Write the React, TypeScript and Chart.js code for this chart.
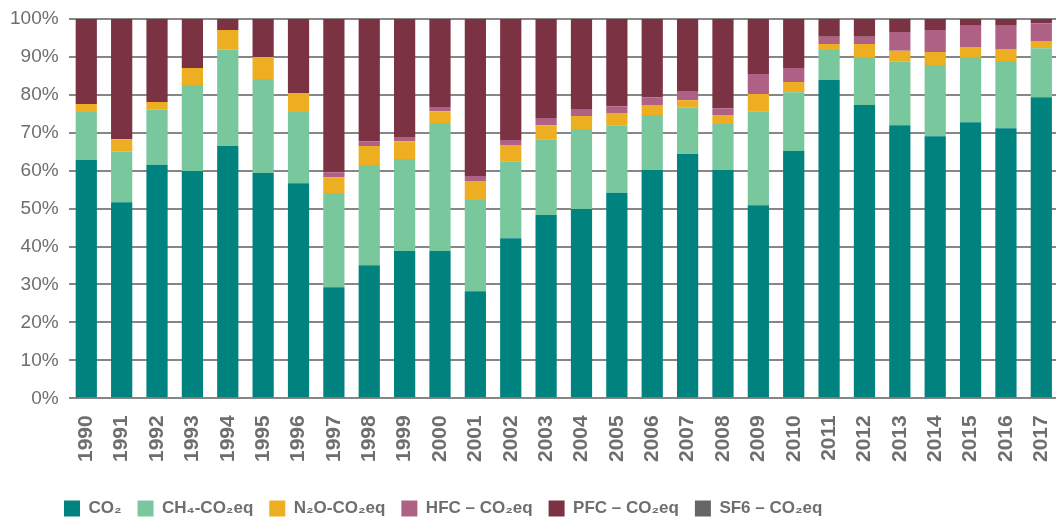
import React, { useEffect, useRef } from "react";
import { Chart, registerables } from "chart.js";

Chart.register(...registerables);

const years = ["1990","1991","1992","1993","1994","1995","1996","1997","1998","1999","2000","2001","2002","2003","2004","2005","2006","2007","2008","2009","2010","2011","2012","2013","2014","2015","2016","2017"];

const co2 = [62.8,51.7,61.6,59.9,66.5,59.4,56.7,29.3,35.1,38.8,38.8,28.2,42.2,48.3,49.9,54.2,60.2,64.4,60.2,50.9,65.2,83.9,77.3,72.0,69.1,72.8,71.2,79.4];
const ch4 = [12.7,13.3,14.5,22.7,25.4,24.8,18.8,24.8,26.4,24.3,33.8,24.1,20.3,20.0,21.1,17.8,14.5,12.2,12.1,24.8,15.5,7.9,12.7,16.7,18.8,17.2,17.7,12.9];
const n2o = [2.1,3.3,2.0,4.5,5.2,5.8,5.0,4.2,5.0,4.7,3.1,5.0,4.3,3.7,3.4,3.2,2.6,2.0,2.4,4.5,2.7,1.6,3.4,2.9,3.4,2.6,3.2,1.9];
const hfc = [0,0,0,0,0,0,0,1.3,1.3,1.1,1.1,1.3,1.3,1.9,1.9,1.8,2.1,2.4,1.8,5.3,3.7,1.9,1.9,5.0,5.8,5.6,6.3,4.7];
const pfc = [22.4,31.7,21.9,12.9,2.9,10.0,19.5,40.4,32.2,31.1,23.2,41.4,31.9,26.1,23.7,23.0,20.6,19.0,23.5,14.5,12.9,4.7,4.7,3.4,2.9,1.8,1.6,1.1];
const sf6 = [0,0,0,0,0,0,0,0,0,0,0,0,0,0,0,0,0,0,0,0,0,0,0,0,0,0,0,0];

const yTicks = [0,10,20,30,40,50,60,70,80,90,100];

const seriesNames = ["CO\u2082","CH\u2084-CO\u2082eq","N\u2082O-CO\u2082eq","HFC \u2013 CO\u2082eq","PFC \u2013 CO\u2082eq","SF6 \u2013 CO\u2082eq"];
const seriesColors = ["#00827F","#79C89D","#EEAE22","#AE6184","#7B3343","#666666"];

const TEXT = "#6d6e70";

const legendShift = {
  id: "legendShift",
  afterLayout(chart: any) {
    if (chart.legend) {
      chart.legend.left += 48;
      chart.legend.right += 48;
    }
  },
};

export default function App() {
  const ref = useRef<HTMLCanvasElement>(null);
  useEffect(() => {
    if (!ref.current) return;
    const values = [co2, ch4, n2o, hfc, pfc, sf6];
    const chart = new Chart(ref.current, {
      type: "bar",
      data: {
        labels: years,
        datasets: values.map((d, i) => ({
          label: seriesNames[i],
          data: d,
          backgroundColor: seriesColors[i],
          borderWidth: 0,
          barPercentage: 0.6,
          categoryPercentage: 1,
        })),
      },
      plugins: [legendShift],
      options: {
        animation: false,
        responsive: true,
        maintainAspectRatio: false,
        layout: { padding: { left: 0, top: 19, right: 0, bottom: -4 } },
        plugins: {
          tooltip: { enabled: false },
          legend: {
            position: "bottom",
            align: "start",
            labels: {
              boxWidth: 16,
              boxHeight: 16,
              padding: 16,
              color: TEXT,
              font: { family: '"Liberation Sans", sans-serif', size: 17, weight: "bold" },
            },
          },
        },
        scales: {
          x: {
            stacked: true,
            grid: { display: false, drawTicks: true, tickLength: 17 },
            border: { display: false },
            afterFit: (scale: any) => {
              scale.paddingLeft = 0;
              scale.paddingRight = 0;
              scale.height += 22;
            },
            ticks: {
              minRotation: 90,
              maxRotation: 90,
              padding: 0,
              color: TEXT,
              autoSkip: false,
              font: { family: '"Liberation Sans", sans-serif', size: 21, weight: "bold" },
            },
          },
          y: {
            stacked: true,
            min: 0,
            max: 100,
            afterBuildTicks: (axis: any) => {
              axis.ticks = yTicks.map((v) => ({ value: v }));
            },
            afterFit: (scale: any) => {
              scale.paddingTop = 0;
              scale.paddingBottom = 0;
            },
            grid: { color: "#868686", lineWidth: 2, drawTicks: false },
            border: { display: false },
            ticks: {
              padding: 10,
              color: TEXT,
              font: { family: '"Liberation Sans", sans-serif', size: 19 },
              callback: (v: any) => `${v}%`,
            },
          },
        },
      },
    });
    return () => chart.destroy();
  }, []);
  return (
    <div style={{ position: "fixed", left: 0, top: 0, width: 1056, height: 523, overflow: "hidden" }}>
      <div style={{ position: "relative", width: 1059, height: 523 }}>
        <canvas ref={ref} />
      </div>
    </div>
  );
}
